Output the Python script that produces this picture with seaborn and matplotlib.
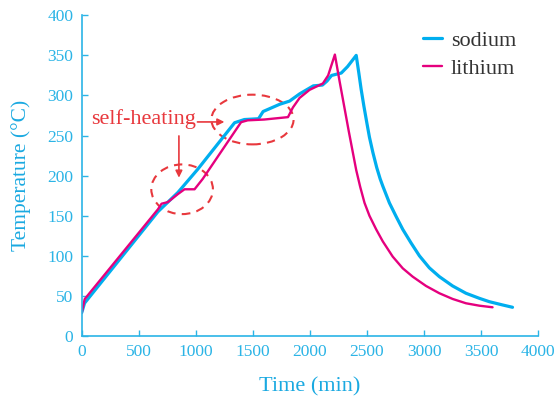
import matplotlib
matplotlib.use("Agg")
import matplotlib.pyplot as plt
from matplotlib.patches import Ellipse
from matplotlib.lines import Line2D
import pandas as pd
import seaborn as sns

# Cell temperature during the heating / cooling test
sodium_time = [0, 25, 668, 843, 1017, 1340, 1426, 1550, 1590, 1735, 1822, 1910,
               2030, 2110, 2150, 2190, 2275, 2330, 2406,
               2429, 2449, 2473, 2499, 2522, 2552, 2586, 2616, 2639, 2697, 2756,
               2814, 2887, 2960, 3047, 3135, 3251, 3368, 3485, 3572, 3689, 3776]
sodium_temp = [29, 41, 155, 179, 208, 266, 270, 271, 280, 289, 293, 302,
               312, 313, 318, 325, 328, 336, 350,
               328, 308, 287, 266, 248, 229, 210, 196, 187, 166, 149,
               133, 116, 100, 85, 74, 62.4, 53.3, 47, 42.8, 38.7, 35.8]

lithium_time = [0, 26, 668, 700, 755, 843, 901, 989, 1061, 1397, 1455, 1600,
                1808, 1851, 1910, 1997, 2114, 2160, 2219,
                2260, 2300, 2340, 2375, 2406, 2441, 2479, 2522,
                2581, 2639, 2726, 2814, 2901, 3018, 3135, 3251, 3368, 3485, 3601]
lithium_temp = [29, 46, 158, 165, 167, 177, 183, 183, 196, 266.7, 269, 270,
                273, 285, 297, 307, 315, 325, 351,
                318, 287, 256, 230, 207, 186, 166, 150,
                133, 118, 99, 84.4, 74, 62.4, 53.3, 46.2, 40.8, 37.8, 35.8]

x_ticks = [0, 500, 1000, 1500, 2000, 2500, 3000, 3500, 4000]
y_ticks = [0, 50, 100, 150, 200, 250, 300, 350, 400]

df = pd.concat([
    pd.DataFrame({"Time": sodium_time, "Temperature": sodium_temp, "cell": "sodium"}),
    pd.DataFrame({"Time": lithium_time, "Temperature": lithium_temp, "cell": "lithium"}),
], ignore_index=True)

SODIUM = "#00aeef"
LITHIUM = "#e5007e"
AXIS = "#2bb4e6"
LABEL = "#1aa9e1"
RED = "#e8383d"

sns.set_style("ticks")
plt.rcParams["font.family"] = ["Liberation Serif", "DejaVu Serif"]

fig = plt.figure(figsize=(5.57, 4.03), dpi=100)
ax = fig.add_axes([0.1467, 0.1663, 0.966 - 0.1467, 0.962 - 0.1663])

sns.lineplot(data=df, x="Time", y="Temperature", hue="cell",
             palette={"sodium": SODIUM, "lithium": LITHIUM},
             hue_order=["sodium", "lithium"], estimator=None, sort=False,
             ax=ax, legend=False)
for line, lw in zip(ax.lines, [2.3, 1.7]):
    line.set_linewidth(lw)
    line.set_solid_joinstyle("round")

ax.set_xlim(0, 4000)
ax.set_ylim(0, 400)
ax.set_xticks(x_ticks)
ax.set_yticks(y_ticks)
ax.tick_params(direction="in", length=4, width=1, colors=AXIS,
               labelsize=12.5, labelcolor=AXIS, pad=6)
for side in ["top", "right"]:
    ax.spines[side].set_visible(False)
for side in ["left", "bottom"]:
    ax.spines[side].set_color(AXIS)
    ax.spines[side].set_linewidth(1.2)

ax.set_xlabel("Time (min)", fontsize=16, color=LABEL, labelpad=12)
ax.set_ylabel("Temperature (°C)", fontsize=15.5, color=LABEL, labelpad=12)

# self-heating regions
for (cx, cy, w, h) in [(880, 183, 540, 62), (1497, 270, 720, 62)]:
    ax.add_patch(Ellipse((cx, cy), w, h, fill=False, edgecolor=RED,
                         linewidth=1.5, linestyle=(0, (4, 3))))

ax.text(80, 270, "self-heating", fontsize=16, color=RED, ha="left", va="center")
arrow = dict(arrowstyle="-|>", color=RED, lw=1.2, mutation_scale=10)
ax.annotate("", xy=(1275, 267), xytext=(990, 267), arrowprops=arrow)
ax.annotate("", xy=(852, 194), xytext=(852, 253), arrowprops=arrow)

handles = [Line2D([], [], color=SODIUM, lw=2.3), Line2D([], [], color=LITHIUM, lw=1.7)]
fig.legend(handles, ["sodium", "lithium"], loc="upper left",
           bbox_to_anchor=(412 / 557, 1 - 19 / 403), frameon=False,
           fontsize=16, handlelength=0.85, handletextpad=0.4,
           labelspacing=0.35, borderpad=0, labelcolor="#333333")

fig.savefig("out.png", dpi=100)
